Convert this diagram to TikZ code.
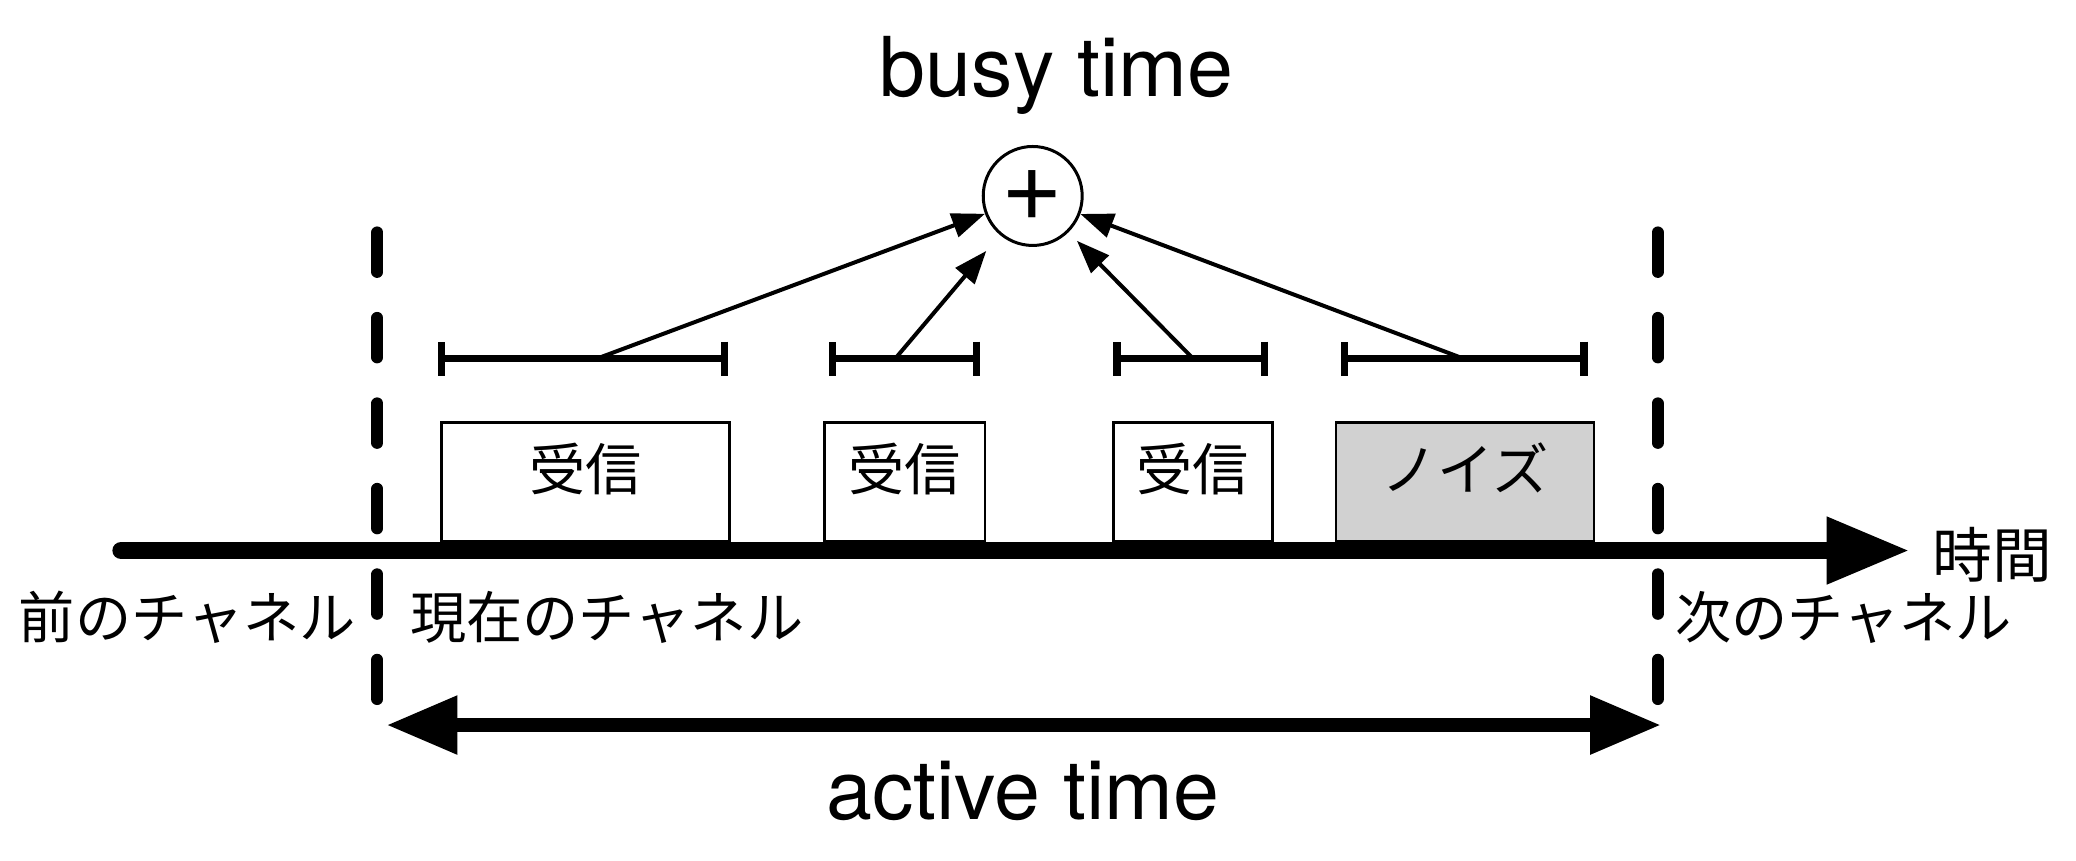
\documentclass[tikz,border=0pt]{standalone}
\usepackage{fontspec}
\setmainfont{TeX Gyre Heros}
\newfontfamily\jpfont{Noto Sans CJK JP}
\usepackage{tikz}
\usetikzlibrary{arrows.meta,positioning}

\definecolor{noisegray}{RGB}{209,209,209}

\tikzset{
  jp/.style={font=\jpfont\fontsize{16}{19}\selectfont, inner sep=0pt, anchor=base},
  en/.style={font=\fontsize{23.5}{28}\selectfont, inner sep=0pt, anchor=base},
  rxbox/.style={draw, line width=0.75pt, fill=white, inner sep=0pt,
    text height=0.679cm, text depth=0.51cm, font=\jpfont\fontsize{16}{19}\selectfont},
  noisebox/.style={rxbox, fill=noisegray},
  span/.style={line width=0.073cm, {Bar[width=0.34cm]}-{Bar[width=0.34cm]}},
  feed/.style={line width=0.04cm, -{Triangle[length=0.33cm,width=0.245cm]}},
  chanline/.style={line width=0.119cm, line cap=round, dash pattern=on 0.396cm off 0.459cm},
  axis/.style={line width=0.176cm, line cap=round, -{Triangle[length=0.834cm,width=0.628cm]}},
  activeline/.style={line width=0.132cm,
    {Triangle[length=0.708cm,width=0.556cm]}-{Triangle[length=0.708cm,width=0.556cm]}}
}

\begin{document}
\begin{tikzpicture}[x=0.01324cm, y=-0.01324cm]
  \useasboundingbox (0,0) rectangle (1568,650);
  % channel boundaries
  \draw[chanline] (285,175.5) -- (285,528);
  \draw[chanline] (1252,175.5) -- (1252,528);
  % receptions and noise
  \node[rxbox, minimum width=2.878cm] (rx1) at (442.1,364.1) {受信};
  \node[rxbox, minimum width=1.609cm] (rx2) at (683.3,364.1) {受信};
  \node[rxbox, minimum width=1.589cm] (rx3) at (901,364.1) {受信};
  \node[noisebox, minimum width=2.582cm] (noise) at (1106.5,364.1) {ノイズ};
  % time axis
  \coordinate (t0) at (91.5,415.8);
  \coordinate (t1) at (1442.6,415.8);
  \draw[axis] (t0) -- (t1);
  \node[jp, font=\jpfont\fontsize{17}{20}\selectfont] (time) at (1505,436.5) {時間};
  \node[jp] (prev) at (141.5,482.5) {前のチャネル};
  \node[jp] (cur) at (458.3,482.5) {現在のチャネル};
  \node[jp] (next) at (1392.5,482.5) {次のチャネル};
  % busy intervals
  \draw[span] (330.8,270.9) -- (549.8,270.9);
  \draw[span] (626,270.9) -- (740.3,270.9);
  \draw[span] (841,270.9) -- (957.7,270.9);
  \draw[span] (1012.8,270.9) -- (1199.1,270.9);
  \coordinate (s1) at (450.7,270.9);
  \coordinate (s2) at (676.1,270.9);
  \coordinate (s3) at (901.2,270.9);
  \coordinate (s4) at (1105.5,270.9);
  % sum
  \node[circle, draw, line width=0.03cm, minimum size=0.99cm, inner sep=0pt,
    font=\fontsize{30}{34}\selectfont] (plus) at (780,148) {+};
  \node[en] (busy) at (798,73) {busy time};
  \draw[feed] (s1) -- (plus);
  \draw[feed, shorten >=0.21cm] (s2) -- (plus);
  \draw[feed, shorten >=0.12cm] (s3) -- (plus);
  \draw[feed] (s4) -- (plus);
  % active time
  \coordinate (a0) at (292,547.6);
  \coordinate (a1) at (1254.5,547.6);
  \draw[activeline] (a0) -- (a1);
  \node[en] (active) at (772.6,619) {active time};
\end{tikzpicture}
\end{document}
